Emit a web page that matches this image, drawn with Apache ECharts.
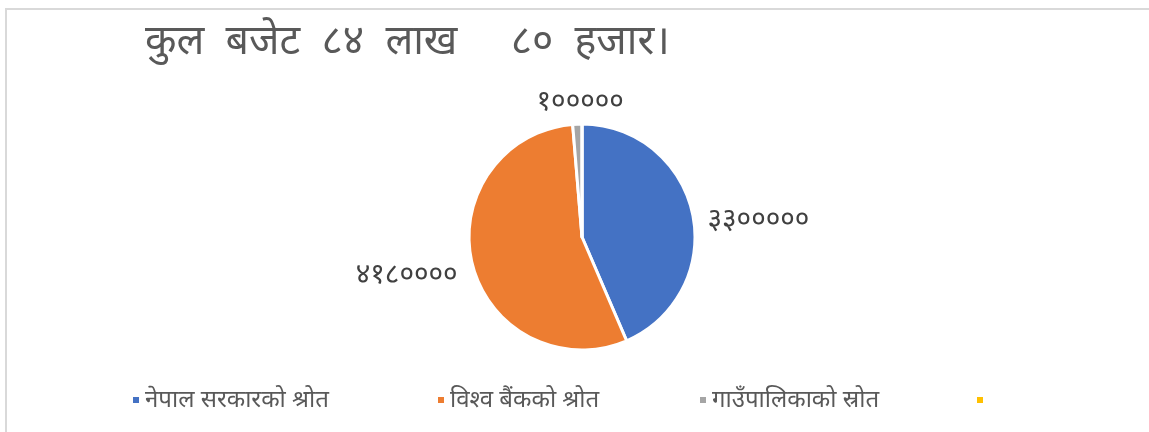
<!DOCTYPE html>
<html>
<head>
    <meta charset="utf-8" />
    <style type="text/css">
        body, html {width: 100%;height: 100%;margin:0;background:#fff;}
        #chart{width:1149px;height:432px;}
    </style>
    <script src="https://cdn.jsdelivr.net/npm/echarts@6/dist/echarts.min.js"></script>
    <title>कुल बजेट</title>
</head>
<body>
<div id="chart"></div>
<script type="text/javascript">
    var titleText = 'कुल  बजेट  ८४  लाख     ८०  हजार।';
    var names = ['नेपाल सरकारको श्रोत', 'विश्व बैंकको श्रोत', 'गाउँपालिकाको स्रोत', ' '];
    var values = [3300000, 4180000, 100000, 0];
    var colors = ['#4472c4', '#ed7d31', '#a5a5a5', '#ffc000'];
    var legendLeft = [131, 436, 698, 975];

    var fontFam = '"Noto Sans", "Noto Sans Devanagari", "Lohit Devanagari", sans-serif';

    // अंकलाई देवनागरीमा
    function toDeva(n) {
        var d = '०१२३४५६७८९';
        return String(n).replace(/[0-9]/g, function (c) { return d[+c]; });
    }

    var pieData = [];
    var legends = [];
    for (var i = 0; i < names.length; i++) {
        var item = {name: names[i], value: values[i], itemStyle: {color: colors[i]}};
        if (values[i] === 0) {
            item.label = {show: false};
            item.labelLine = {show: false};
        }
        pieData.push(item);
        legends.push({
            left: legendLeft[i],
            bottom: 20,
            padding: 0,
            itemWidth: 8,
            itemHeight: 8,
            icon: 'rect',
            data: [names[i]],
            textStyle: {color: '#595959', fontSize: 24, fontFamily: fontFam}
        });
    }

    var myChart = echarts.init(document.getElementById('chart'));
    var option = {
        backgroundColor: '#fff',
        animation: false,
        title: {
            text: titleText,
            left: 140,
            top: 17,
            textStyle: {color: '#595959', fontSize: 41, fontWeight: 'normal', fontFamily: fontFam}
        },
        legend: legends,
        graphic: [{
            type: 'polyline',
            shape: {points: [[6, 432], [6, 9], [1149, 9]]},
            style: {stroke: '#d9d9d9', lineWidth: 2, fill: null}
        }],
        series: [{
            type: 'pie',
            center: [582, 237],
            radius: 113,
            startAngle: 90,
            clockwise: true,
            data: pieData,
            itemStyle: {borderColor: '#fff', borderWidth: 3},
            label: {
                show: true,
                position: 'outside',
                color: '#404040',
                fontSize: 28,
                fontFamily: fontFam,
                formatter: function (p) { return toDeva(p.value); }
            },
            labelLine: {show: false, length: 10, length2: 0},
            labelLayout: function (p) {
                if (p.dataIndex === 2) {
                    return {dx: 52, dy: -12};
                }
                return {dy: 8};
            }
        }]
    };
    myChart.setOption(option);
</script>
</body>
</html>
